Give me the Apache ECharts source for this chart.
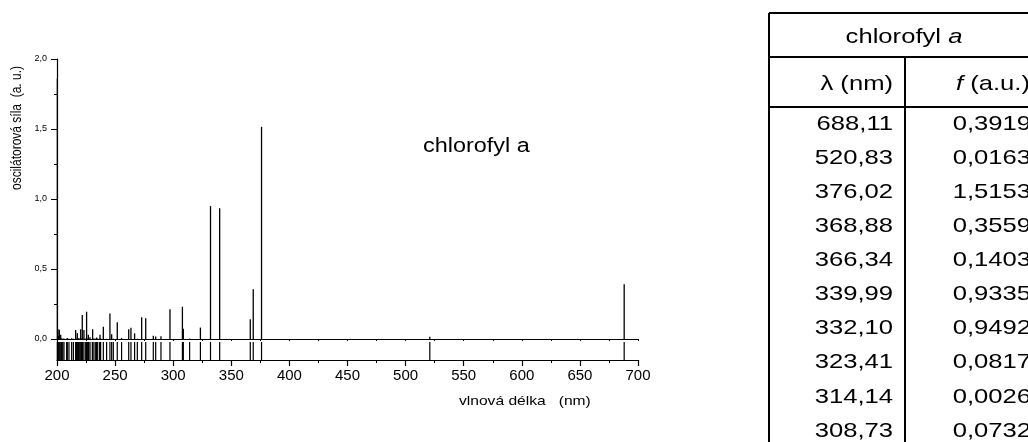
<!DOCTYPE html>
<html>
<head>
<meta charset="utf-8">
<script src="https://cdn.jsdelivr.net/npm/echarts@6/dist/echarts.min.js"></script>
<style>
  html, body { margin: 0; padding: 0; background: #fff; }
  #chart { width: 1028px; height: 442px; }
</style>
</head>
<body>
<div id="chart"></div>
<script>
// Computed electronic transitions of chlorophyll a: wavelength (nm) and oscillator strength (a.u.)
const wavelengths = [
  688.11, 520.83, 376.02, 368.88, 366.34, 339.99, 332.10, 323.41, 314.14, 308.73,
  307.92, 297.21, 289.47, 284.93, 282.88, 276.34, 272.86, 269.12, 266.78, 263.65,
  261.72, 255.58, 251.87, 248.47, 247.04, 245.55, 242.70, 239.87, 237.55, 236.98,
  236.40, 234.69, 234.08, 233.30, 231.82, 230.66, 230.40, 228.41, 227.30, 226.96,
  226.10, 225.47, 224.70, 223.19, 222.10, 221.76, 221.20, 220.38, 219.20, 218.40,
  217.47, 216.90, 216.06, 214.10, 212.61, 210.30, 208.86, 208.30, 206.00, 204.90,
  204.00, 203.18, 202.01, 201.10, 200.85, 200.30
];
const strengths = [
  0.3919, 0.0163, 1.5153, 0.3559, 0.1403, 0.9335, 0.9492, 0.0817, 0.0026, 0.0732,
  0.2305, 0.2118, 0.0195, 0.0171, 0.0236, 0.1481, 0.1552, 0.0010, 0.0402, 0.0808,
  0.0697, 0.0075, 0.1204, 0.0021, 0.0331, 0.1826, 0.0015, 0.0881, 0.0048, 0.0296,
  0.0012, 0.0033, 0.0104, 0.0020, 0.0046, 0.0702, 0.0009, 0.0118, 0.0054, 0.0302,
  0.0027, 0.1948, 0.0034, 0.0645, 0.0061, 0.1712, 0.0040, 0.0696, 0.0030, 0.0052,
  0.0402, 0.0025, 0.0640, 0.0018, 0.0051, 0.0022, 0.0064, 0.0011, 0.0031, 0.0019,
  0.0044, 0.0298, 0.0652, 0.0207, 0.0690, 1.8600
];

// Table: the first (longest-wavelength) transitions
const tableRowCount = 10;
const moleculeName = 'chlorofyl';
const moleculeSuffix = 'a';
const colHeadLambda = 'λ (nm)';
const colHeadF = ' (a.u.)';
const xTitle = 'vlnová délka   (nm)';
const yTitle = 'oscilátorová síla  (a. u.)';

const FONT = 'Liberation Sans, Arial, sans-serif';
const comma = (v, d) => v.toFixed(d).replace('.', ',');

const chart = echarts.init(document.getElementById('chart'), null, { renderer: 'canvas' });

const stickData = wavelengths.map((w, i) => [w, strengths[i]]);
const rugData = wavelengths.map(w => [w, 0]);

// Table graphic elements
const tbl = { left: 769, top: 13, right: 1040, bottom: 450, head1: 57, head2: 107, colDiv: 905 };
const tScale = 1.22;
const tFont = 21;
const tableEls = [
  { type: 'line', shape: { x1: tbl.left, y1: tbl.top, x2: tbl.right, y2: tbl.top } },
  { type: 'line', shape: { x1: tbl.left, y1: tbl.top, x2: tbl.left, y2: tbl.bottom } },
  { type: 'line', shape: { x1: tbl.left, y1: tbl.head1, x2: tbl.right, y2: tbl.head1 } },
  { type: 'line', shape: { x1: tbl.left, y1: tbl.head2, x2: tbl.right, y2: tbl.head2 } },
  { type: 'line', shape: { x1: tbl.colDiv, y1: tbl.head1, x2: tbl.colDiv, y2: tbl.bottom } }
].map(e => Object.assign(e, { style: { stroke: '#000', lineWidth: 2 }, silent: true }));

function tText(text, x, y, align) {
  return {
    type: 'text', x: x, y: y, scaleX: tScale, silent: true,
    style: {
      text: text, fill: '#000', fontSize: tFont, fontFamily: FONT,
      align: align, textAlign: align, verticalAlign: 'middle', textVerticalAlign: 'middle',
      rich: {
        n: { fontSize: tFont, fontFamily: FONT, fill: '#000' },
        i: { fontSize: tFont, fontFamily: FONT, fontStyle: 'italic', fill: '#000' }
      }
    }
  };
}

tableEls.push(tText('{n|' + moleculeName + ' }{i|' + moleculeSuffix + '}', 904, 37, 'center'));
tableEls.push(tText('{n|' + colHeadLambda + '}', 893, 84, 'right'));
tableEls.push(tText('{i|f}{n|' + colHeadF + '}', 1030, 84, 'right'));
for (let k = 0; k < tableRowCount; k++) {
  const y = 124 + 34.1 * k;
  tableEls.push(tText(comma(wavelengths[k], 2), 893, y, 'right'));
  tableEls.push(tText(comma(strengths[k], 4), 1031, y, 'right'));
}

const option = {
  animation: false,
  backgroundColor: '#fff',
  grid: [
    { left: 57, top: 59, width: 581, height: 280 },
    { left: 57, top: 339, width: 581, height: 21 }
  ],
  xAxis: [
    {
      gridIndex: 0, type: 'value', min: 200, max: 700, interval: 25,
      axisLine: { show: true, onZero: false, lineStyle: { color: '#000', width: 1.2 } },
      axisTick: { show: true, length: 2, lineStyle: { color: '#000', width: 1 } },
      axisLabel: { show: false },
      splitLine: { show: false }
    },
    {
      gridIndex: 1, type: 'value', min: 200, max: 700, interval: 50,
      axisLine: { show: true, onZero: false, lineStyle: { color: '#000', width: 1.2 } },
      axisTick: { show: true, length: 6, lineStyle: { color: '#000', width: 1.2 } },
      minorTick: { show: true, splitNumber: 2, length: 3, lineStyle: { color: '#000', width: 1 } },
      axisLabel: { show: true, color: '#000', fontSize: 15, fontFamily: FONT, margin: 8 },
      splitLine: { show: false }
    }
  ],
  yAxis: [
    {
      gridIndex: 0, type: 'value', min: 0, max: 2, interval: 0.5,
      axisLine: { show: true, onZero: false, lineStyle: { color: '#000', width: 1.2 } },
      axisTick: { show: true, length: 6, lineStyle: { color: '#000', width: 1 } },
      minorTick: { show: true, splitNumber: 2, length: 3, lineStyle: { color: '#000', width: 1 } },
      axisLabel: {
        show: true, color: '#000', fontSize: 9, fontFamily: FONT, margin: 10,
        formatter: v => comma(v, 1)
      },
      splitLine: { show: false }
    },
    {
      gridIndex: 1, type: 'value', min: 0, max: 1,
      axisLine: { show: true, onZero: false, lineStyle: { color: '#000', width: 1.2 } },
      axisTick: { show: false },
      axisLabel: { show: false },
      splitLine: { show: false }
    }
  ],
  series: [
    {
      // oscillator-strength sticks
      type: 'custom', xAxisIndex: 0, yAxisIndex: 0,
      data: stickData,
      encode: { x: 0, y: 1 },
      clip: false,
      renderItem: function (params, api) {
        const w = api.value(0), f = api.value(1);
        const p0 = api.coord([w, 0]);
        const p1 = api.coord([w, f]);
        return {
          type: 'line',
          shape: { x1: p0[0], y1: p0[1], x2: p1[0], y2: p1[1] },
          style: { stroke: '#000', lineWidth: 1.3 }
        };
      }
    },
    {
      // position marks of every transition
      type: 'custom', xAxisIndex: 1, yAxisIndex: 1,
      data: rugData,
      encode: { x: 0, y: 1 },
      clip: false,
      renderItem: function (params, api) {
        const w = api.value(0);
        const p0 = api.coord([w, 0]);
        const p1 = api.coord([w, 0.86]);
        return {
          type: 'line',
          shape: { x1: p0[0], y1: p0[1], x2: p1[0], y2: p1[1] },
          style: { stroke: '#000', lineWidth: 1.2 }
        };
      }
    }
  ],
  graphic: [
    {
      type: 'text', x: 423, y: 147, scaleX: 1.2, silent: true,
      style: {
        text: moleculeName + ' ' + moleculeSuffix, fill: '#000', fontSize: 19.5, fontFamily: FONT,
        align: 'left', textAlign: 'left', verticalAlign: 'middle', textVerticalAlign: 'middle'
      }
    },
    {
      type: 'text', x: 459, y: 401, scaleX: 1.2, silent: true,
      style: {
        text: xTitle, fill: '#000', fontSize: 13, fontFamily: FONT,
        align: 'left', textAlign: 'left', verticalAlign: 'middle', textVerticalAlign: 'middle'
      }
    },
    {
      type: 'text', x: 17, y: 128, rotation: Math.PI / 2, scaleY: 1.15, silent: true,
      style: {
        text: yTitle, fill: '#000', fontSize: 12, fontFamily: FONT,
        align: 'center', textAlign: 'center', verticalAlign: 'middle', textVerticalAlign: 'middle'
      }
    }
  ].concat(tableEls)
};

chart.setOption(option);
</script>
</body>
</html>
